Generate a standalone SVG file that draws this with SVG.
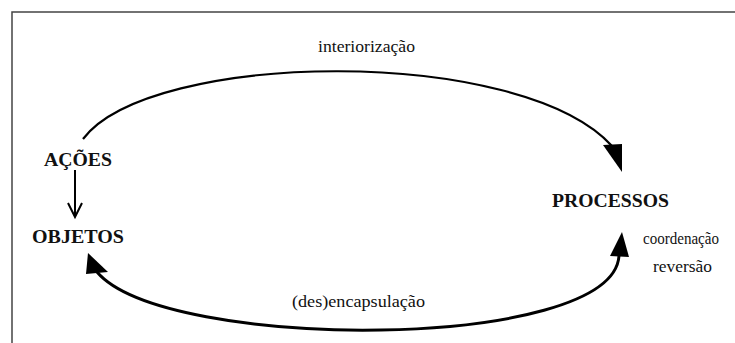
<svg xmlns="http://www.w3.org/2000/svg" width="735" height="343" viewBox="0 0 735 343">
<style>
.frame{fill:none;stroke:#444;stroke-width:1.5}
.lbl{font-family:"Liberation Serif","Times New Roman",serif;fill:#111}
.node{font-size:19px;font-weight:bold}
.small{font-size:16px}
.arc{fill:none;stroke:#000}
.head{fill:#000;stroke:none}
</style>
<rect class="frame" x="12" y="12" width="740" height="345"/>
<g id="node-acoes"><text class="lbl node" x="44" y="166" textLength="68" lengthAdjust="spacingAndGlyphs">AÇÕES</text></g>
<g id="node-objetos"><text class="lbl node" x="32" y="243" textLength="92" lengthAdjust="spacingAndGlyphs">OBJETOS</text></g>
<g id="node-processos"><text class="lbl node" x="552" y="207" textLength="117" lengthAdjust="spacingAndGlyphs">PROCESSOS</text></g>
<g id="connectors">
<path class="arc" stroke-width="2.2" d="M83,139 C150,50 520,45 612,146"/>
<polygon class="head" points="603,145 622,144 622,172"/>
<path class="arc" stroke-width="3" d="M97,272 C165,352 612,352 619,256"/>
<polygon class="head" points="88,253 86,274 108,272"/>
<polygon class="head" points="622,232 610,256 629,257"/>
<line x1="75" y1="170" x2="75" y2="216" stroke="#000" stroke-width="2"/>
<polyline points="68,203 75,217 82,203" fill="none" stroke="#000" stroke-width="2"/>
<text class="lbl small" x="318" y="52" textLength="97" lengthAdjust="spacingAndGlyphs">interiorização</text>
<text class="lbl small" x="292" y="307" textLength="133" lengthAdjust="spacingAndGlyphs">(des)encapsulação</text>
<text class="lbl small" x="643" y="244" textLength="76" lengthAdjust="spacingAndGlyphs">coordenação</text>
<text class="lbl small" x="653" y="272" textLength="59" lengthAdjust="spacingAndGlyphs">reversão</text>
</g>
</svg>
